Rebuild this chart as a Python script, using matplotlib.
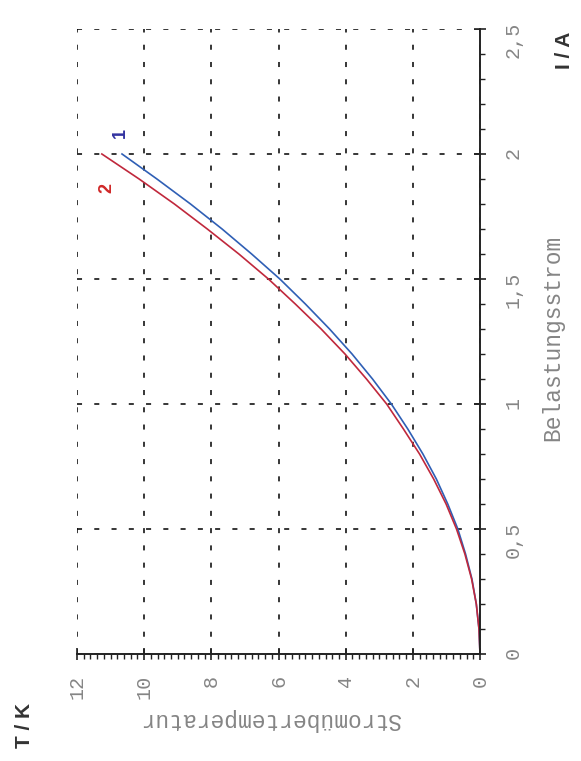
import matplotlib
matplotlib.use("Agg")
import matplotlib.pyplot as plt
from matplotlib.ticker import MultipleLocator, FuncFormatter

# (the chart is drawn turned by 90 degrees)
strom = [0.0, 0.1, 0.2, 0.3, 0.4, 0.5, 0.6, 0.7, 0.8, 0.9, 1.0,
         1.1, 1.2, 1.3, 1.4, 1.5, 1.6, 1.7, 1.8, 1.9, 2.0]
temp_1 = [0.0, 0.03, 0.11, 0.24, 0.43, 0.66, 0.96, 1.30, 1.70, 2.15, 2.64,
          3.20, 3.81, 4.48, 5.20, 5.96, 6.80, 7.68, 8.62, 9.62, 10.66]
temp_2 = [0.0, 0.03, 0.11, 0.25, 0.45, 0.70, 1.01, 1.38, 1.80, 2.28, 2.78,
          3.38, 4.02, 4.73, 5.50, 6.30, 7.18, 8.12, 9.10, 10.15, 11.26]

t_ticks = [0, 2, 4, 6, 8, 10, 12]
i_ticks = [0, 0.5, 1.0, 1.5, 2.0, 2.5]

mono = "Liberation Mono"
grey = "#858585"

fig = plt.figure(figsize=(5.81, 7.61), dpi=100)
ax = fig.add_axes([77/581, 1 - 654/761, 403/581, 625/761])

ax.plot(temp_1, strom, color="#2f5fb5", lw=1.2)
ax.plot(temp_2, strom, color="#c0283c", lw=1.2)

ax.set_xlim(12, 0)
ax.set_ylim(0, 2.5)

ax.spines["top"].set_visible(False)
ax.spines["left"].set_visible(False)
for s in ("bottom", "right"):
    ax.spines[s].set_linewidth(1.4)
    ax.spines[s].set_color("#222222")

ax.yaxis.tick_right()
ax.set_xticks(t_ticks)
ax.set_yticks(i_ticks)
ax.xaxis.set_minor_locator(MultipleLocator(0.2))
ax.yaxis.set_minor_locator(MultipleLocator(0.1))
komma = FuncFormatter(lambda v, p: ("%g" % v).replace(".", ","))
ax.xaxis.set_major_formatter(komma)
ax.yaxis.set_major_formatter(komma)

ax.tick_params(which="major", direction="inout", length=8, width=1.2,
               color="#222222", labelsize=14.5, labelcolor=grey)
ax.tick_params(which="minor", direction="out", length=3.5, width=1.0,
               color="#222222")
ax.tick_params(axis="x", which="major", labelrotation=90, pad=11)
ax.tick_params(axis="y", which="major", labelrotation=90, pad=13)
for lab in ax.get_xticklabels() + ax.get_yticklabels():
    lab.set_family(mono)

ax.grid(which="major", color="black", linestyle=(0, (3.3, 8)), lw=1.1)

ax.text(10.72, 2.085, "1", color="#3232a0", fontsize=13, fontweight="bold",
        rotation=90, ha="center", va="center", family="Liberation Sans")
ax.text(11.1, 1.865, "2", color="#d02828", fontsize=13, fontweight="bold",
        rotation=90, ha="center", va="center", family="Liberation Sans")

fig.text(270/581, 1 - 720/761, "Stromübertemperatur", rotation=180,
         ha="center", va="center", color=grey, fontsize=16.5, family=mono)
fig.text(553/581, 1 - 338/761, "Belastungsstrom", rotation=90,
         ha="center", va="center", color=grey, fontsize=16.5, family=mono)
fig.text(25/581, 1 - 725/761, "T / K", rotation=90, ha="center", va="center",
         fontsize=15, fontweight="bold", color="#333333", family="Liberation Sans")
fig.text(565/581, 1 - 50/761, "I / A", rotation=90, ha="center", va="center",
         fontsize=15, fontweight="bold", color="#333333", family="Liberation Sans")

fig.savefig("out.png", dpi=100)
